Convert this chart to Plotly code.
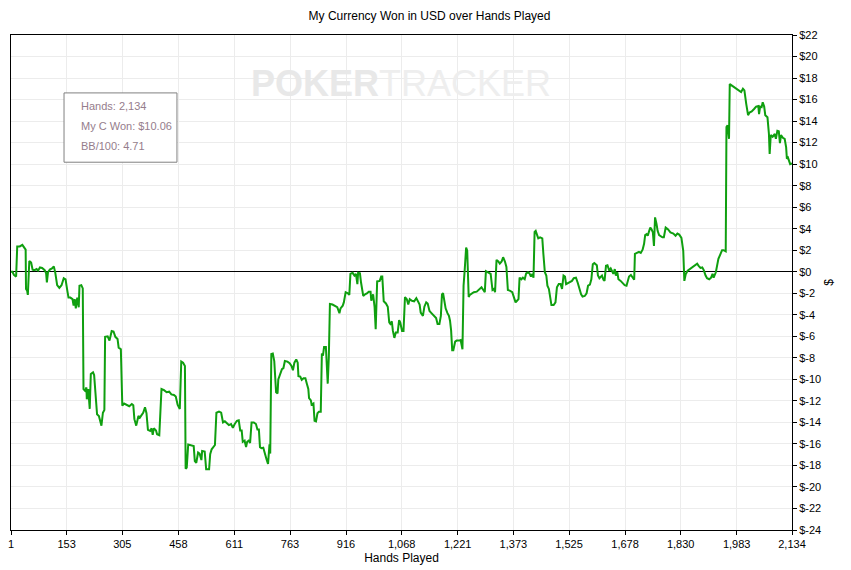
"""PokerTracker style graph: cumulative currency won (USD) over hands played -> out.html."""

import plotly.graph_objects as go

TITLE = "My Currency Won in USD over Hands Played"

# Summary figures shown in the info box.
TOTAL_HANDS = 2134
TOTAL_WON = 10.06
BB_PER_100 = 4.71

# Hand number / cumulative won ($).
HANDS = [
    1, 5, 9, 15, 18, 25, 32, 36, 41, 42, 45, 47, 51, 56, 60, 65, 71, 75, 80, 86,
    93, 97, 99, 102, 107, 113, 118, 122, 127, 133, 139, 145, 150, 154, 158, 163, 169, 172, 175, 178,
    182, 186, 188, 193, 197, 199, 203, 207, 208, 212, 216, 219, 225, 228, 232, 236, 241, 246, 248, 252,
    256, 258, 265, 270, 276, 281, 286, 292, 295, 301, 305, 310, 317, 324, 331, 335, 338, 343, 349, 353,
    358, 362, 367, 371, 375, 381, 385, 388, 391, 397, 400, 406, 412, 419, 426, 433, 439, 446, 451, 456,
    462, 466, 471, 476, 478, 481, 485, 494, 500, 503, 507, 512, 516, 521, 523, 530, 534, 542, 545, 549,
    554, 558, 562, 569, 575, 580, 585, 591, 596, 602, 607, 612, 618, 623, 627, 631, 634, 639, 643, 646,
    650, 654, 658, 664, 670, 674, 678, 681, 685, 690, 694, 699, 703, 707, 709, 712, 716, 720, 725, 729,
    731, 736, 741, 745, 749, 756, 762, 767, 771, 775, 780, 784, 786, 791, 795, 800, 805, 809, 813, 815,
    820, 822, 827, 830, 834, 838, 842, 847, 850, 853, 856, 861, 866, 869, 872, 879, 886, 892, 898, 901,
    907, 910, 915, 921, 925, 928, 934, 939, 943, 947, 949, 954, 957, 963, 968, 974, 978, 983, 985, 990,
    994, 997, 1001, 1008, 1012, 1015, 1019, 1025, 1030, 1034, 1037, 1041, 1044, 1048, 1052, 1057, 1061, 1064, 1069, 1073,
    1077, 1082, 1086, 1090, 1096, 1102, 1108, 1112, 1117, 1120, 1126, 1130, 1135, 1139, 1144, 1148, 1153, 1158, 1162, 1166,
    1171, 1175, 1178, 1181, 1185, 1188, 1193, 1197, 1200, 1203, 1206, 1209, 1214, 1218, 1224, 1229, 1234, 1237, 1240, 1244,
    1247, 1251, 1254, 1259, 1265, 1273, 1277, 1282, 1286, 1291, 1295, 1298, 1302, 1307, 1311, 1316, 1320, 1323, 1327, 1332,
    1336, 1341, 1345, 1350, 1354, 1358, 1363, 1370, 1374, 1379, 1383, 1387, 1390, 1395, 1399, 1404, 1408, 1413, 1417, 1421,
    1425, 1428, 1431, 1434, 1437, 1441, 1446, 1452, 1455, 1459, 1463, 1466, 1470, 1474, 1477, 1483, 1488, 1492, 1497, 1502,
    1506, 1510, 1514, 1517, 1523, 1528, 1533, 1538, 1544, 1549, 1553, 1558, 1562, 1568, 1573, 1577, 1582, 1586, 1590, 1594,
    1601, 1604, 1608, 1611, 1615, 1619, 1622, 1626, 1630, 1635, 1639, 1642, 1646, 1650, 1653, 1657, 1660, 1666, 1671, 1677,
    1682, 1686, 1689, 1694, 1698, 1703, 1705, 1712, 1716, 1721, 1726, 1730, 1733, 1737, 1740, 1744, 1747, 1751, 1754, 1757,
    1760, 1764, 1767, 1771, 1775, 1780, 1784, 1789, 1795, 1802, 1810, 1816, 1821, 1826, 1832, 1837, 1840, 1844, 1849, 1855,
    1861, 1866, 1870, 1875, 1879, 1884, 1889, 1893, 1898, 1902, 1908, 1913, 1917, 1920, 1926, 1929, 1933, 1938, 1943, 1947,
    1953, 1955, 1958, 1962, 1964, 1970, 1979, 1988, 1995, 2000, 2004, 2009, 2014, 2018, 2024, 2031, 2036, 2042, 2044, 2047,
    2051, 2054, 2058, 2061, 2067, 2071, 2073, 2076, 2081, 2087, 2090, 2094, 2098, 2101, 2104, 2109, 2114, 2118, 2120, 2123,
    2127, 2129, 2134,
]
WON = [
    0.0, 0.0, -0.3, -0.45, 2.35, 2.35, 2.5, 2.25, 2.05, -1.6, -1.75, -2.15, 1.0, 0.85, 0.2, 0.15, 0.25, 0.1, 0.4, 0.35,
    0.15, -0.15, -1.0, -0.05, 0.2, 0.3, 0.5, -0.1, -1.25, -1.5, -1.25, -0.6, -0.7, -1.6, -2.4, -2.4, -2.55, -3.15, -2.55, -3.4,
    -2.4, -3.3, -1.3, -1.25, -1.55, -10.9, -11.05, -10.75, -11.85, -10.9, -12.75, -9.5, -9.35, -9.6, -11.15, -13.25, -13.4, -14.15, -14.3, -13.1,
    -12.85, -6.05, -6.0, -6.4, -5.5, -5.55, -6.05, -6.25, -7.05, -7.2, -12.45, -12.25, -12.35, -12.5, -12.3, -12.4, -13.7, -14.3, -13.4, -13.55,
    -13.3, -13.1, -12.6, -13.15, -14.7, -14.8, -14.55, -15.15, -14.55, -14.75, -15.1, -15.2, -10.9, -11.0, -11.2, -11.15, -11.4, -11.45, -11.6, -12.35,
    -12.75, -8.35, -8.45, -8.75, -18.3, -18.2, -16.05, -16.1, -16.2, -17.6, -17.75, -16.8, -16.9, -17.5, -16.65, -16.7, -18.35, -18.35, -16.95, -16.5,
    -16.3, -16.1, -13.1, -13.0, -13.1, -14.0, -13.9, -14.1, -14.25, -14.15, -14.5, -14.15, -13.85, -13.8, -14.75, -14.75, -15.8, -15.7, -16.3, -15.8,
    -15.7, -15.9, -14.0, -14.0, -14.15, -14.65, -14.65, -16.3, -16.4, -16.35, -16.9, -17.45, -17.85, -16.05, -16.9, -7.65, -7.6, -8.3, -11.2, -11.3,
    -10.0, -9.5, -9.05, -8.95, -8.3, -8.35, -8.5, -8.75, -9.15, -8.45, -8.15, -8.45, -9.7, -9.75, -10.05, -9.9, -9.9, -10.4, -10.9, -11.75,
    -11.95, -12.35, -12.25, -13.85, -13.9, -13.15, -13.0, -13.0, -7.6, -7.8, -7.0, -7.0, -10.4, -7.95, -3.0, -3.05, -3.15, -3.3, -3.85, -3.4,
    -3.15, -2.85, -1.9, -2.0, -2.15, -0.2, -0.1, -0.35, -0.2, -1.15, -0.1, -0.15, -1.0, -2.25, -2.1, -2.0, -1.85, -1.85, -2.7, -2.1,
    -3.3, -5.35, -0.9, -0.85, -0.45, -0.45, -2.75, -2.95, -3.25, -4.7, -4.85, -4.6, -5.5, -6.15, -5.65, -5.65, -4.5, -4.7, -5.5, -5.5,
    -2.35, -2.55, -3.05, -2.55, -2.7, -2.75, -2.45, -2.7, -3.05, -3.8, -4.1, -3.25, -2.85, -2.95, -3.65, -3.8, -3.95, -4.1, -4.3, -4.85,
    -4.85, -4.1, -2.1, -2.0, -2.7, -3.4, -3.85, -4.1, -4.55, -5.45, -7.3, -7.3, -6.5, -6.4, -6.4, -6.35, -7.2, -1.3, 0.1, 2.25,
    1.95, -2.35, -2.15, -2.0, -1.9, -1.85, -1.75, -1.6, -1.45, -1.7, -1.9, 0.05, -0.05, -0.15, -0.2, -1.7, -1.6, -1.9, 1.1, 0.95,
    0.75, 0.95, 1.35, 0.95, 0.45, -1.7, -1.75, -1.9, -2.25, -2.85, -2.7, -2.55, -0.55, -0.7, -0.55, -0.7, -0.15, -0.05, -0.15, -0.45,
    -0.2, -0.55, 3.7, 3.8, 3.5, 3.1, 3.2, 3.1, 1.65, -0.05, -0.35, -1.3, -1.6, -2.35, -3.1, -3.1, -2.85, -1.45, -1.15, -1.15,
    -1.6, -0.35, -0.45, -1.15, -1.05, -0.95, -0.85, -0.6, -0.55, -1.05, -1.6, -2.1, -2.3, -2.25, -2.0, -1.3, -1.2, -0.7, 0.7, 0.8,
    0.6, -0.35, -0.6, -0.45, -0.35, -0.75, -0.85, 0.55, 0.6, 0.1, 0.3, 0.1, -0.2, 0.25, -0.35, -0.05, -0.7, -0.85, -1.05, -1.25,
    -1.3, -0.75, -0.45, -0.3, -0.55, -0.75, 1.65, 1.75, 1.85, 1.75, 2.05, 2.6, 3.4, 3.5, 3.35, 3.8, 4.1, 3.9, 3.65, 2.4,
    5.05, 4.45, 3.8, 3.4, 3.3, 3.2, 3.2, 4.1, 3.95, 3.65, 3.55, 3.35, 3.55, 3.45, 3.15, 1.95, -0.85, -0.2, 0.1, 0.25,
    0.45, 0.55, 0.7, 0.75, 0.55, 0.35, 0.4, 0.15, -0.35, -0.6, -0.7, -0.55, -0.2, -0.55, -0.05, 0.4, 1.2, 1.6, 2.0, 2.0,
    1.9, 13.45, 13.6, 12.35, 17.45, 17.3, 17.1, 16.9, 16.7, 17.0, 16.85, 15.6, 14.55, 14.8, 14.9, 15.15, 15.35, 15.4, 14.65, 15.35,
    15.3, 15.75, 15.35, 14.55, 14.35, 12.8, 10.95, 12.7, 12.55, 12.8, 12.35, 13.1, 13.05, 11.95, 12.7, 12.45, 12.35, 11.55, 10.5, 10.6,
    10.2, 10.0, 10.06,
]

X_TICKS = [1, 153, 305, 458, 611, 763, 916, 1068, 1221, 1373, 1525, 1678, 1830, 1983, 2134]
Y_TICKS = list(range(22, -26, -2))
Y_LABELS = [f"${v}" for v in Y_TICKS]

INFO_LINES = [
    f"Hands: {TOTAL_HANDS:,}",
    f"My C Won: ${TOTAL_WON:.2f}",
    f"BB/100: {BB_PER_100:.2f}",
]

FONT = "Liberation Sans"
GRID = "#ececec"
LINE_GREEN = "#0f9f0f"
INFO_COLOR = "#957d8c"

fig = go.Figure()
fig.add_trace(
    go.Scatter(
        x=HANDS,
        y=WON,
        mode="lines",
        line={"color": LINE_GREEN, "width": 2},
        hoverinfo="skip",
        showlegend=False,
    )
)

# info box top-left of the plot area
fig.add_shape(
    type="rect", xref="paper", yref="paper",
    x0=0.0679, x1=0.2125, y0=0.743, y1=0.883,
    line={"color": "#808080", "width": 1}, fillcolor="white", layer="above",
)
for i, txt in enumerate(INFO_LINES):
    fig.add_annotation(
        text=txt, xref="paper", yref="paper",
        x=0.0871, y=0.8566 - i * 0.0404,
        xanchor="left", yanchor="middle", showarrow=False,
        font={"family": FONT, "size": 11, "color": INFO_COLOR},
    )

# watermark
fig.add_annotation(
    text="<b><span style='color:#e8e8e8'>POKER</span></b>TRACKER", xref="paper", yref="paper",
    x=0.4994, y=0.903, xanchor="center", yanchor="middle", showarrow=False,
    font={"family": FONT, "size": 36, "color": "#eeeeee"},
)

# the page body keeps its default 8px margin, so the figure is sized to sit inside the window
fig.update_layout(
    width=843,
    height=562,
    paper_bgcolor="white",
    plot_bgcolor="white",
    margin={"l": 3, "r": 59, "t": 27, "b": 40, "autoexpand": False},
    font={"family": FONT, "size": 11, "color": "#000000"},
    title={
        "text": TITLE, "x": 0.5, "xanchor": "center", "y": 0.986, "yanchor": "middle",
        "font": {"family": FONT, "size": 12, "color": "#000000"},
    },
    xaxis={
        "range": [1, 2134],
        "tickvals": X_TICKS,
        "tickformat": ",",
        "ticks": "outside",
        "ticklen": 4,
        "tickcolor": "#000000",
        "ticklabeloverflow": "allow",
        "showgrid": True,
        "gridcolor": GRID,
        "showline": True,
        "linecolor": "#000000",
        "linewidth": 1,
        "mirror": True,
        "zeroline": False,
        "automargin": False,
        "title": {"text": "Hands Played", "standoff": 4, "font": {"size": 12}},
    },
    yaxis={
        "range": [-24, 22],
        "side": "right",
        "tickvals": Y_TICKS,
        "ticktext": Y_LABELS,
        "ticks": "outside",
        "ticklen": 4,
        "tickcolor": "#000000",
        "ticklabeloverflow": "allow",
        "showgrid": True,
        "gridcolor": GRID,
        "showline": True,
        "linecolor": "#000000",
        "linewidth": 1,
        "mirror": True,
        "zeroline": True,
        "zerolinecolor": "#000000",
        "zerolinewidth": 1,
        "automargin": False,
        "title": {"text": "$", "standoff": 4, "font": {"size": 12}},
    },
)

fig.write_html("out.html")
